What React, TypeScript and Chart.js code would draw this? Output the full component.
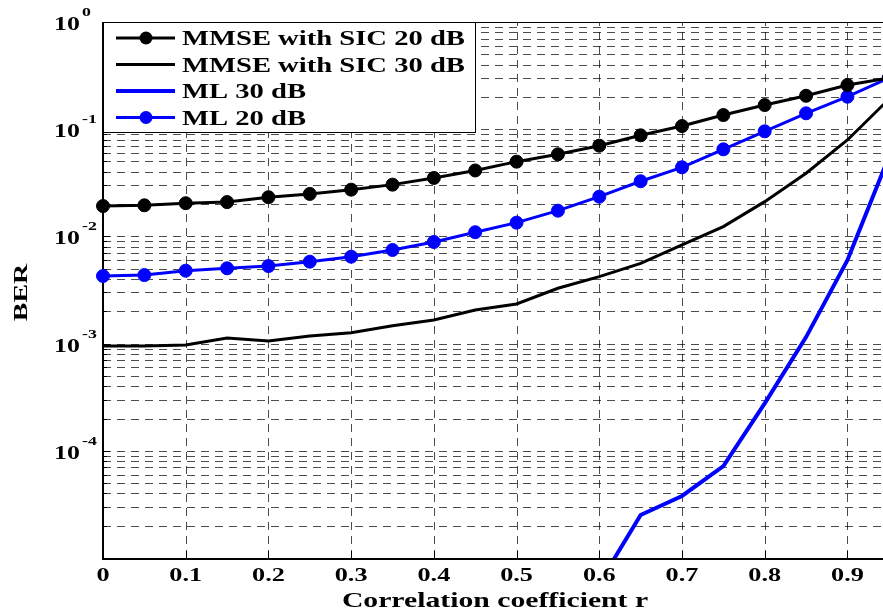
import React, { useEffect, useRef } from "react";
import { Chart, registerables } from "chart.js";

Chart.register(...registerables);

// ---- data ----
const rValues = [0, 0.05, 0.1, 0.15, 0.2, 0.25, 0.3, 0.35, 0.4, 0.45, 0.5, 0.55, 0.6, 0.65, 0.7, 0.75, 0.8, 0.85, 0.9, 0.95];
const mmseSic20 = [0.0192, 0.0195, 0.0204, 0.0209, 0.0232, 0.0249, 0.0273, 0.0304, 0.0351, 0.0412, 0.0498, 0.0583, 0.0702, 0.0877, 0.107, 0.1355, 0.168, 0.205, 0.258, 0.3];
const mmseSic30 = [0.00095, 0.00095, 0.00097, 0.00113, 0.00106, 0.00118, 0.00126, 0.00147, 0.00166, 0.00206, 0.00234, 0.00328, 0.00421, 0.00561, 0.00832, 0.01233, 0.0211, 0.0388, 0.0793, 0.19];
const ml30 = [null, null, null, null, null, null, null, null, null, null, null, null, 5.8e-6, 2.52e-5, 3.79e-5, 7.2e-5, 2.77e-4, 1.15e-3, 6.0e-3, 0.055];
const ml20 = [0.00427, 0.00436, 0.00479, 0.00504, 0.00529, 0.00581, 0.00647, 0.00747, 0.00887, 0.01094, 0.01343, 0.01738, 0.02346, 0.0327, 0.0441, 0.0649, 0.0956, 0.1407, 0.201, 0.3];

const xTickValues = [0, 0.1, 0.2, 0.3, 0.4, 0.5, 0.6, 0.7, 0.8, 0.9];
const xTickLabels = ["0", "0.1", "0.2", "0.3", "0.4", "0.5", "0.6", "0.7", "0.8", "0.9"];
const yDecadeExponents = [0, -1, -2, -3, -4];
const xTitle = "Correlation coefficient r";
const yTitle = "BER";
const legendLabels = ["MMSE with SIC 20 dB", "MMSE with SIC 30 dB", "ML 30 dB", "ML 20 dB"];

const BLUE = "#0000ff";
const BLACK = "#000000";
const SERIF = '"Liberation Serif", "Times New Roman", serif';
const W = 883;
const H = 609;

function toPoints(values: (number | null)[]) {
  const pts: { x: number; y: number }[] = [];
  values.forEach((v, i) => {
    if (v !== null) pts.push({ x: rValues[i], y: v });
  });
  return pts;
}

function stretchedText(
  ctx: CanvasRenderingContext2D,
  text: string,
  x: number,
  y: number,
  size: number,
  sx: number,
  align: CanvasTextAlign
) {
  ctx.save();
  ctx.translate(x, y);
  ctx.scale(sx, 1);
  ctx.font = `bold ${size}px ${SERIF}`;
  ctx.textAlign = align;
  ctx.textBaseline = "alphabetic";
  ctx.fillStyle = BLACK;
  ctx.fillText(text, 0, 0);
  ctx.restore();
}

const matlabPlugin = {
  id: "matlabLook",
  beforeDatasetsDraw(chart: any) {
    const { ctx, chartArea } = chart;
    const xs = chart.scales.x;
    const ys = chart.scales.y;
    const { left, right, top, bottom } = chartArea;
    ctx.save();
    ctx.strokeStyle = "rgba(0,0,0,0.7)";
    ctx.lineWidth = 1;
    ctx.setLineDash([8, 6]);
    for (let e = -5; e <= 0; e++) {
      for (let k = 1; k <= 9; k++) {
        const v = k * Math.pow(10, e);
        if (v > 1.0000001 || v < 0.99999e-5) continue;
        const py = Math.round(ys.getPixelForValue(v)) + 0.5;
        if (py < top - 1 || py > bottom - 1) continue;
        ctx.beginPath();
        ctx.moveTo(left, py);
        ctx.lineTo(right, py);
        ctx.stroke();
      }
    }
    xTickValues.forEach((v) => {
      if (v === 0) return;
      const px = Math.round(xs.getPixelForValue(v)) + 0.5;
      ctx.beginPath();
      ctx.moveTo(px, bottom);
      ctx.lineTo(px, top);
      ctx.stroke();
    });
    ctx.setLineDash([]);
    ctx.strokeStyle = BLACK;
    for (let e = -5; e <= 0; e++) {
      for (let k = 1; k <= 9; k++) {
        const v = k * Math.pow(10, e);
        if (v > 1.0000001) continue;
        const py = Math.round(ys.getPixelForValue(v)) + 0.5;
        if (py < top - 1 || py > bottom) continue;
        const len = k === 1 ? 7 : 4;
        ctx.beginPath();
        ctx.moveTo(left, py);
        ctx.lineTo(left + len, py);
        ctx.stroke();
      }
    }
    xTickValues.forEach((v) => {
      const px = Math.round(xs.getPixelForValue(v)) + 0.5;
      ctx.beginPath();
      ctx.moveTo(px, bottom);
      ctx.lineTo(px, bottom - 7);
      ctx.stroke();
    });
    ctx.lineWidth = 1;
    ctx.beginPath();
    ctx.moveTo(left, top + 0.5);
    ctx.lineTo(right, top + 0.5);
    ctx.stroke();
    ctx.lineWidth = 2;
    ctx.beginPath();
    ctx.moveTo(left, top);
    ctx.lineTo(left, bottom + 1);
    ctx.lineTo(right, bottom + 1);
    ctx.stroke();
    ctx.restore();
  },
  afterDraw(chart: any) {
    const { ctx, chartArea } = chart;
    const xs = chart.scales.x;
    const ys = chart.scales.y;
    const { left, right, bottom } = chartArea;
    ctx.save();
    xTickValues.forEach((v, i) => {
      const px = xs.getPixelForValue(v);
      stretchedText(ctx, xTickLabels[i], px, bottom + 23, 19, 1.38, "center");
    });
    yDecadeExponents.forEach((e) => {
      const py = ys.getPixelForValue(Math.pow(10, e));
      stretchedText(ctx, "10", 54, py + 8, 19, 1.36, "left");
      stretchedText(ctx, String(e), 82, py - 6, 13, 1.37, "left");
    });
    stretchedText(ctx, xTitle, (left + right) / 2 + 2, 607, 22, 1.35, "center");
    ctx.save();
    ctx.translate(27, 292.5);
    ctx.rotate(-Math.PI / 2);
    ctx.scale(1.55, 1);
    ctx.font = `bold 18px ${SERIF}`;
    ctx.textAlign = "center";
    ctx.textBaseline = "alphabetic";
    ctx.fillStyle = BLACK;
    ctx.fillText(yTitle, 0, 0);
    ctx.restore();

    // legend
    const bx = Math.round(left) + 0.5;
    const by = Math.round(chartArea.top) + 0.5;
    const bw = 372;
    const bh = 110;
    ctx.fillStyle = "#ffffff";
    ctx.fillRect(bx, by, bw, bh);
    ctx.strokeStyle = BLACK;
    ctx.lineWidth = 1;
    ctx.strokeRect(bx, by, bw, bh);
    const items = chart.data.datasets;
    items.forEach((ds: any, i: number) => {
      const cy = 38 + i * 26.5;
      ctx.strokeStyle = ds.borderColor;
      ctx.lineWidth = ds.borderWidth;
      ctx.beginPath();
      ctx.moveTo(116, cy);
      ctx.lineTo(175, cy);
      ctx.stroke();
      if (ds.pointRadius > 0) {
        ctx.beginPath();
        ctx.arc(146, cy, ds.pointRadius, 0, Math.PI * 2);
        ctx.fillStyle = ds.pointBackgroundColor;
        ctx.fill();
      }
      stretchedText(ctx, legendLabels[i], 182, cy + 7, 20, 1.43, "left");
    });
    ctx.restore();
  },
};

export default function App() {
  const canvasRef = useRef<HTMLCanvasElement | null>(null);

  useEffect(() => {
    if (!canvasRef.current) return;
    const clip = { left: 8, right: 0, top: 0, bottom: 0 };
    const chart = new Chart(canvasRef.current, {
      type: "line",
      data: {
        datasets: [
          {
            label: legendLabels[0],
            data: toPoints(mmseSic20),
            borderColor: BLACK,
            backgroundColor: BLACK,
            borderWidth: 3,
            pointRadius: 6.5,
            pointBackgroundColor: BLACK,
            pointBorderColor: BLACK,
            pointBorderWidth: 1,
            clip,
          },
          {
            label: legendLabels[1],
            data: toPoints(mmseSic30),
            borderColor: BLACK,
            backgroundColor: BLACK,
            borderWidth: 3,
            pointRadius: 0,
            clip,
          },
          {
            label: legendLabels[2],
            data: toPoints(ml30),
            borderColor: BLUE,
            backgroundColor: BLUE,
            borderWidth: 4,
            pointRadius: 0,
            clip,
          },
          {
            label: legendLabels[3],
            data: toPoints(ml20),
            borderColor: BLUE,
            backgroundColor: BLUE,
            borderWidth: 3,
            pointRadius: 6.5,
            pointBackgroundColor: BLUE,
            pointBorderColor: BLUE,
            pointBorderWidth: 1,
            clip,
          },
        ] as any,
      },
      options: {
        animation: false,
        responsive: false,
        maintainAspectRatio: false,
        devicePixelRatio: 1,
        layout: { autoPadding: false, padding: { top: 22, left: 0, right: 0, bottom: 0 } },
        elements: { line: { tension: 0 } },
        plugins: { legend: { display: false }, tooltip: { enabled: false } },
        scales: {
          x: {
            type: "linear",
            min: 0,
            max: 0.943,
            grid: { display: false },
            border: { display: false },
            ticks: { display: false },
            afterBuildTicks: (s: any) => {
              s.ticks = xTickValues.map((v) => ({ value: v }));
            },
            afterFit: (s: any) => {
              s.height = 51;
              s.paddingLeft = 0;
              s.paddingRight = 0;
            },
          },
          y: {
            type: "logarithmic",
            min: 1e-5,
            max: 1,
            grid: { display: false },
            border: { display: false },
            ticks: { display: false },
            afterFit: (s: any) => {
              s.width = 103;
              s.paddingTop = 0;
              s.paddingBottom = 0;
            },
          },
        },
      } as any,
      plugins: [matlabPlugin as any],
    });
    return () => chart.destroy();
  }, []);

  return (
    <div style={{ position: "fixed", left: 0, top: 0, width: W, height: H, background: "#fff" }}>
      <canvas ref={canvasRef} width={W} height={H} style={{ display: "block", width: W, height: H }} />
    </div>
  );
}
